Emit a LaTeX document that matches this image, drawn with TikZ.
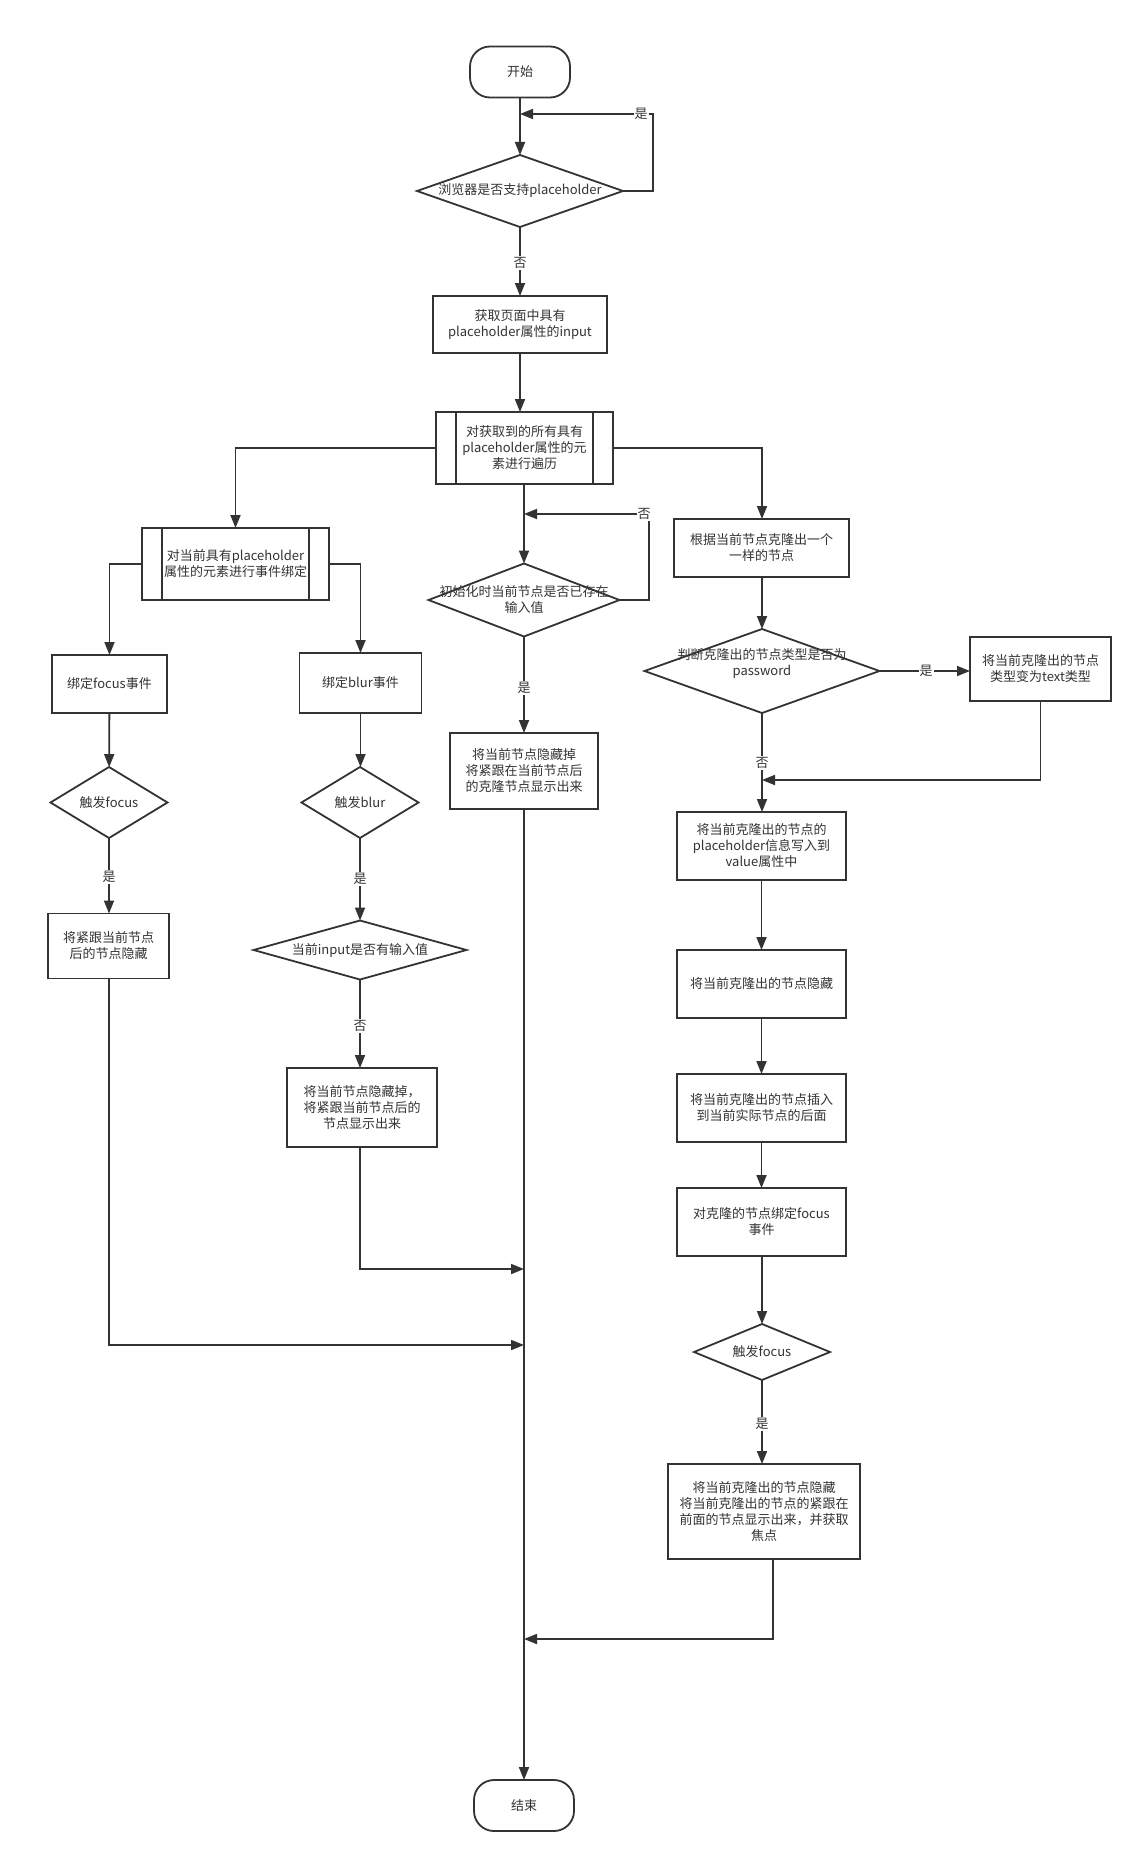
\documentclass[tikz,border=0pt]{standalone}
\usepackage{fontspec}
\setmainfont{Noto Sans CJK SC}
\usetikzlibrary{shapes.geometric,arrows.meta}
\definecolor{ink}{HTML}{333333}
\begin{document}
\begin{tikzpicture}[x=1pt,y=-1pt,
  txt/.style={font=\fontsize{13pt}{16pt}\selectfont, text=ink, align=center},
  base/.style={txt, draw=ink, line width=1.8pt, inner sep=2pt, outer sep=0pt},
  box/.style 2 args={base, rectangle, minimum width=#1pt, minimum height=#2pt},
  term/.style={base, rounded corners=20pt, minimum width=100pt, minimum height=51pt},
  dia/.style 2 args={draw=ink, line width=1.8pt, diamond, inner sep=0pt, outer sep=0pt, minimum width=#1pt, minimum height=#2pt},
  ln/.style={draw=ink, line width=1.8pt},
  arr/.style={ln, -{Triangle[length=13pt,width=10pt]}},
  lab/.style={txt, fill=white, inner sep=1pt},
  dtext/.style={txt, inner sep=0pt}
]
\useasboundingbox[fill=white] (0,0) rectangle (1142,1862);

% main column
\node[term] (start) at (520,72) {开始};
\node[dia={206}{72}] (d1) at (520,191) {};
\node[dtext] (d1t) at (520,191) {浏览器是否支持placeholder};
\node[box={174}{57}] (get) at (520,324.5) {获取页面中具有\\placeholder属性的input};
\node[box={177}{72}] (loop) at (524.5,448) {对获取到的所有具有\\placeholder属性的元\\素进行遍历};
\draw[ln] ([xshift=20pt]loop.north west) -- ([xshift=20pt]loop.south west);
\draw[ln] ([xshift=-20pt]loop.north east) -- ([xshift=-20pt]loop.south east);
\node[dia={191}{73}] (dinit) at (524,600) {};
\node[dtext] (dinitt) at (524,600) {初始化时当前节点是否已存在\\输入值};
\node[box={148}{76}] (hide) at (524,771) {将当前节点隐藏掉\\将紧跟在当前节点后\\的克隆节点显示出来};
\node[term] (end) at (524,1805.5) {结束};

% left branch
\node[box={187}{72}] (bind) at (235.5,564) {对当前具有placeholder\\属性的元素进行事件绑定};
\draw[ln] ([xshift=20pt]bind.north west) -- ([xshift=20pt]bind.south west);
\draw[ln] ([xshift=-20pt]bind.north east) -- ([xshift=-20pt]bind.south east);
\node[box={115}{58}] (focus) at (109.5,684) {绑定focus事件};
\node[dia={117}{71}] (trigf) at (109,802.5) {};
\node[dtext] (trigft) at (109,802.5) {触发focus};
\node[box={121}{65}] (hidenext) at (108.5,946) {将紧跟当前节点\\后的节点隐藏};

\node[box={122}{60}] (blur) at (360.5,683) {绑定blur事件};
\node[dia={117}{71}] (trigb) at (360,802.5) {};
\node[dtext] (trigbt) at (360,802.5) {触发blur};
\node[dia={213}{59}] (dinput) at (360,950) {};
\node[dtext] (dinputt) at (360,950) {当前input是否有输入值};
\node[box={150}{79}] (shownext) at (362,1107.5) {将当前节点隐藏掉，\\将紧跟当前节点后的\\节点显示出来};

% right branch
\node[box={175}{58}] (clone) at (761.5,548) {根据当前节点克隆出一个\\一样的节点};
\node[dia={235}{84}] (dpwd) at (762,671) {};
\node[dtext] (dpwdt) at (762,663) {判断克隆出的节点类型是否为\\password};
\node[box={141}{64}] (totext) at (1040.5,669) {将当前克隆出的节点\\类型变为text类型};
\node[box={169}{68}] (writeph) at (761.5,846) {将当前克隆出的节点的\\placeholder信息写入到\\value属性中};
\node[box={169}{68}] (hideclone) at (761.5,984) {将当前克隆出的节点隐藏};
\node[box={169}{68}] (insert) at (761.5,1108) {将当前克隆出的节点插入\\到当前实际节点的后面};
\node[box={169}{68}] (bindf) at (761.5,1222) {对克隆的节点绑定focus\\事件};
\node[dia={136}{56}] (trigf2) at (762,1352) {};
\node[dtext] (trigf2t) at (762,1352) {触发focus};
\node[box={192}{95}] (final) at (764,1511.5) {将当前克隆出的节点隐藏\\将当前克隆出的节点的紧跟在\\前面的节点显示出来，并获取\\焦点};

% junction coordinates
\coordinate (j1) at (520,114);
\coordinate (j1c) at (653,114);
\coordinate (j2) at (524,514);
\coordinate (j2c) at (649,514);
\coordinate (jb) at (524,1269);
\coordinate (jf) at (524,1345);
\coordinate (jr) at (524,1639);
\coordinate (jrc) at (773,1639);
\coordinate (jt) at (762,780);

% connectors: main column
\draw[arr] (start) -- (d1);
\draw[arr] (d1.east) -| (j1c) -- (j1);
\node[lab] (l1) at (641,114) {是};
\draw[arr] (d1) -- (get);
\node[lab] (l2) at (520,263) {否};
\draw[arr] (get.south) -- (get.south |- loop.north);
\draw[arr] (loop.south -| dinit) -- (dinit);
\draw[arr] (dinit.east) -| (j2c) -- (j2);
\node[lab] (l3) at (644,514) {否};
\draw[arr] (dinit) -- (hide);
\node[lab] (l4) at (524,688) {是};
\draw[arr] (hide) -- (end);

% left branch
\draw[arr] (loop.west) -| (bind.north);
\draw[arr] (bind.west) -| (focus.north);
\draw[arr] (bind.east) -| (blur.north);
\draw[arr] (focus) -- (trigf);
\draw[arr] (trigf) -- (trigf |- hidenext.north);
\node[lab] (l5) at (109,877) {是};
\draw[arr] (hidenext.south -| trigf) |- (jf);
\draw[arr] (blur) -- (blur |- trigb.north);
\draw[arr] (trigb) -- (dinput);
\node[lab] (l6) at (360,879) {是};
\draw[arr] (dinput) -- (dinput |- shownext.north);
\node[lab] (l7) at (360,1026) {否};
\draw[arr] (shownext.south -| dinput) |- (jb);

% right branch
\draw[arr] (loop.east) -| (clone.north -| dpwd);
\draw[arr] (clone.south -| dpwd) -- (dpwd);
\draw[arr] (dpwd.east) -- (totext.west |- dpwd.east);
\node[lab] (l8) at (926,671) {是};
\draw[arr] (totext.south) |- (jt);
\draw[arr] (dpwd) -- (dpwd |- writeph.north);
\node[lab] (l9) at (762,763) {否};
\draw[arr] (writeph) -- (hideclone);
\draw[arr] (hideclone) -- (insert);
\draw[arr] (insert) -- (bindf);
\draw[arr] (bindf.south -| trigf2) -- (trigf2);
\draw[arr] (trigf2) -- (trigf2 |- final.north);
\node[lab] (l10) at (762,1424) {是};
\draw[arr] (final.south -| jrc) -- (jrc) -- (jr);
\end{tikzpicture}
\end{document}
